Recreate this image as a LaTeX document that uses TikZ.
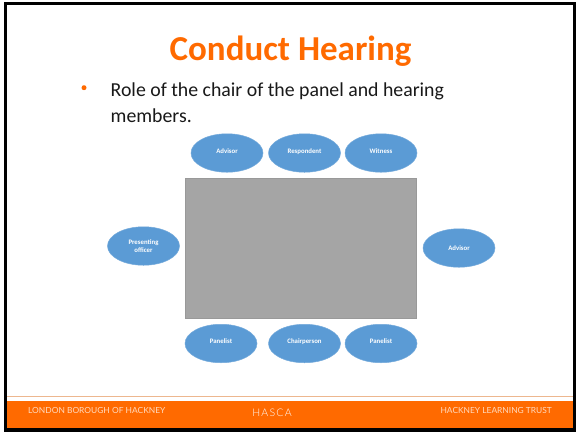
\documentclass[tikz,border=0pt]{standalone}
\usepackage{fontspec}
\setmainfont{Carlito}
\newfontfamily\footfont{Lato}
\newfontfamily\logofont[LetterSpace=12]{Lato Light}
\usetikzlibrary{shapes.geometric}
\definecolor{hackorange}{HTML}{FF6A00}
\definecolor{ovalblue}{HTML}{5B9BD5}
\definecolor{tablegray}{HTML}{A5A5A5}
\definecolor{ruleline}{HTML}{EDB78F}
\tikzset{
  seat/.style={ellipse,draw=ovalblue!85!white,line width=0.5pt,fill=ovalblue,minimum width=72pt,minimum height=38.5pt,inner sep=0pt,text=white,font=\fontsize{6.8}{8.6}\selectfont\bfseries,align=center},
  foottext/.style={text=white!75!hackorange,font=\footfont\fontsize{8.4}{10}\selectfont,inner sep=0pt}
}
\begin{document}
\begin{tikzpicture}[x=1pt,y=-1pt]
\useasboundingbox (0,0) rectangle (577,432);
\fill[white] (0,0) rectangle (577,432);
\fill[hackorange] (5,401) rectangle (574,429);
\draw[ruleline,line width=1.2pt] (5,396.5) -- (574,396.5);
\draw[black,line width=3.5pt] (5.5,3.7) rectangle (574.6,430);
\node[text=hackorange,font=\fontsize{35}{42}\selectfont\bfseries,inner sep=0pt] (title) at (290.5,51) {Conduct Hearing};
\node[circle,fill=hackorange,minimum size=5pt,inner sep=0pt] (bullet) at (84,87.7) {};
\node[anchor=north west,align=left,inner sep=0pt,text=black!90,font=\fontsize{19.8}{26}\selectfont] (body) at (110.5,83) {Role of the chair of the panel and hearing\\members.};
\node[fill=tablegray,draw=black!40,line width=0.4pt,minimum width=231pt,minimum height=140.5pt,inner sep=0pt] (tbl) at (300.7,248) {};
\node[seat] (s1) at (227,153) {\raisebox{4pt}{Advisor}};
\node[seat] (s2) at (304.5,153) {\raisebox{4pt}{Respondent}};
\node[seat] (s3) at (381,153) {\raisebox{4pt}{Witness}};
\node[seat] (s4) at (143.5,246) {Presenting\\officer};
\node[seat] (s5) at (459,248) {Advisor};
\node[seat] (s6) at (221,343.5) {\raisebox{4pt}{Panelist}};
\node[seat] (s7) at (304.5,343.5) {\raisebox{4pt}{Chairperson}};
\node[seat] (s8) at (381,343.5) {\raisebox{4pt}{Panelist}};
\node[foottext,anchor=west] (f1) at (28,410.5) {LONDON BOROUGH OF HACKNEY};
\node[foottext,anchor=center,text=white,font=\logofont\fontsize{10.5}{12}\selectfont] (f2) at (272,412.5) {HASCA};
\node[foottext,anchor=east] (f3) at (552,410.5) {HACKNEY LEARNING TRUST};
\end{tikzpicture}
\end{document}
